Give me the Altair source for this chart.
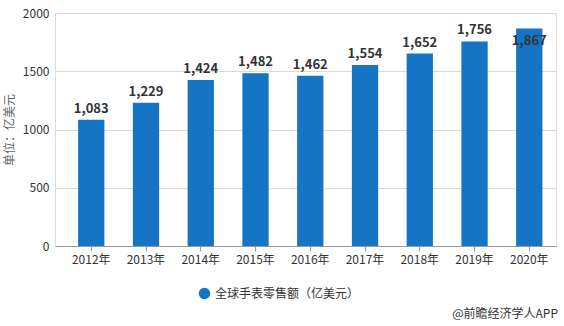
import altair as alt
import pandas as pd

years = ["2012年", "2013年", "2014年", "2015年", "2016年", "2017年", "2018年", "2019年", "2020年"]
values = [1083, 1229, 1424, 1482, 1462, 1554, 1652, 1756, 1867]
series = "全球手表零售额（亿美元）"
source_note = "@前瞻经济学人APP"

df = pd.DataFrame({"year": years, "value": values, "series": [series] * len(years)})

FONT = "Noto Sans CJK SC"
BLUE = "#1574c4"

x = alt.X("year:N", sort=years, title=None,
          scale=alt.Scale(paddingInner=0.52, paddingOuter=0.335, align=0.63),
          axis=alt.Axis(labelAngle=0, labelFontSize=12, labelColor="#333333", labelFont=FONT,
                        domainColor="#999999", tickColor="#999999", tickSize=5, labelPadding=3))
y = alt.Y("value:Q", title="单位：亿美元",
          scale=alt.Scale(domain=[0, 2000], nice=False),
          axis=alt.Axis(values=[0, 500, 1000, 1500, 2000], format="d", labelFontSize=12,
                        labelColor="#333333", labelFont=FONT, domain=False, ticks=False,
                        gridColor="#d9d9d9", titleFont=FONT, titleFontSize=12, titleColor="#666666",
                        titleFontWeight="normal", labelPadding=6, titlePadding=6))

base = alt.Chart(df)

bars = base.mark_bar(color=BLUE).encode(
    x=x, y=y,
    color=alt.Color("series:N", scale=alt.Scale(range=[BLUE]),
                    legend=alt.Legend(title=None, orient="none", legendX=143, legendY=41 + 233,
                                      symbolType="circle", symbolSize=130, labelFontSize=12,
                                      labelFont=FONT, labelColor="#333333", symbolOffset=0))
)

labels = base.transform_filter(alt.datum.year != "2020年").mark_text(
    dy=-11, fontSize=13, fontWeight="bold", font=FONT, color="#333333"
).encode(x=alt.X("year:N", sort=years), y="value:Q", text=alt.Text("value:Q", format=","))

last_label = base.transform_filter(alt.datum.year == "2020年").mark_text(
    dy=13, fontSize=13, fontWeight="bold", font=FONT, color="#333333"
).encode(x=alt.X("year:N", sort=years), y="value:Q", text=alt.Text("value:Q", format=","))

note = alt.Chart(pd.DataFrame({"t": [source_note]})).mark_text(
    align="right", baseline="middle", fontSize=12, font=FONT, color="#333333"
).encode(x=alt.value(503), y=alt.value(301), text="t:N")

chart = alt.layer(bars, labels, last_label, note).properties(
    width=501, height=233,
    padding={"left": 55, "top": 13, "right": 8, "bottom": 80},
    autosize=alt.AutoSizeParams(type="none")
).configure_view(stroke=None).configure(font=FONT)

chart.save("out.html", embed_options={"renderer": "svg", "actions": False})
